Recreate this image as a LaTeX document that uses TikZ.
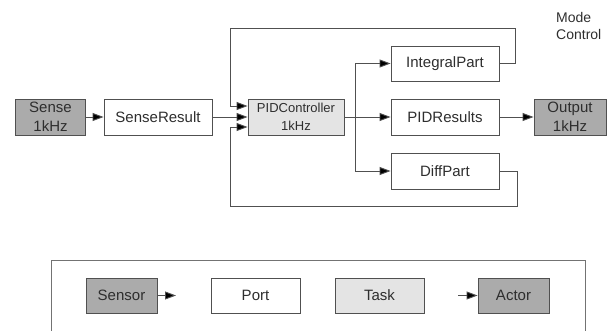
\documentclass[tikz,border=0pt]{standalone}
\usepackage{fontspec}
\setmainfont{Liberation Sans}
\usetikzlibrary{arrows.meta}
\definecolor{darkfill}{HTML}{ABABAB}
\definecolor{lightfill}{HTML}{E4E4E4}
\definecolor{edgegray}{HTML}{505050}
\definecolor{txtgray}{HTML}{2E2E2E}
\tikzset{
  box/.style={draw=edgegray, line width=0.9pt, minimum height=36pt, inner sep=0pt,
              font=\fontsize{15}{19}\selectfont, text=txtgray, align=center},
  hw/.style={box, fill=darkfill},
  portbox/.style={box, fill=white},
  taskbox/.style={box, fill=lightfill},
  conn/.style={draw=edgegray, line width=0.9pt},
  arr/.style={conn, -{Triangle[length=11pt,width=8pt,fill=black]}},
}
\begin{document}
\begin{tikzpicture}[x=1pt,y=-1pt]
\useasboundingbox (0,0) rectangle (608,331);
% main nodes
\node[hw, minimum width=70pt] (sense) at (50.5,117) {Sense\\1kHz};
\node[portbox, minimum width=108pt] (senseres) at (158,117) {SenseResult};
\node[taskbox, minimum width=96pt, font=\fontsize{13}{18}\selectfont] (pid) at (296,117) {PIDController\\1kHz};
\node[portbox, minimum width=108pt, minimum height=35pt] (integral) at (445,63.5) {IntegralPart};
\node[portbox, minimum width=108pt] (pidres) at (445,117) {PIDResults};
\node[portbox, minimum width=108pt] (diff) at (445,171) {DiffPart};
\node[hw, minimum width=72pt] (output) at (570,117) {Output\\1kHz};
\node[font=\fontsize{14}{16.5}\selectfont, text=txtgray, align=left, anchor=west, inner sep=0pt] (mode) at (556,26) {Mode\\Control};
% connectors
\coordinate (br) at (355,117);
\draw[arr] (sense) -- (senseres);
\draw[arr] (senseres) -- (pid);
\draw[arr] (integral.east) -| (515,28) -| (230,106) -- ([yshift=11pt]pid.west);
\draw[arr] (diff.east) -| (517,206) -| (230,127) -- ([yshift=-10pt]pid.west);
\draw[conn] (pid.east) -- (br);
\draw[arr] (br) -- (pidres);
\draw[arr] (br) |- (integral.west);
\draw[arr] (br) |- (diff.west);
\draw[arr] (pidres) -- (output);
% legend
\draw[conn, draw=gray!90!black] (51,335) -- (51,260) -- (585,260) -- (585,335);
\node[hw, minimum width=71pt, minimum height=35pt] (sensor) at (121.5,295.5) {Sensor};
\node[portbox, minimum width=89pt, minimum height=35pt] (port) at (255.5,295.5) {Port};
\node[taskbox, minimum width=89pt, minimum height=35pt] (task) at (379.5,295.5) {Task};
\node[hw, minimum width=71pt, minimum height=35pt] (actor) at (513.5,295.5) {Actor};
\coordinate (sensorend) at (176,295.5);
\coordinate (actorstart) at (458,295.5);
\draw[arr] (sensor) -- (sensorend);
\draw[arr] (actorstart) -- (actor);
\end{tikzpicture}
\end{document}
